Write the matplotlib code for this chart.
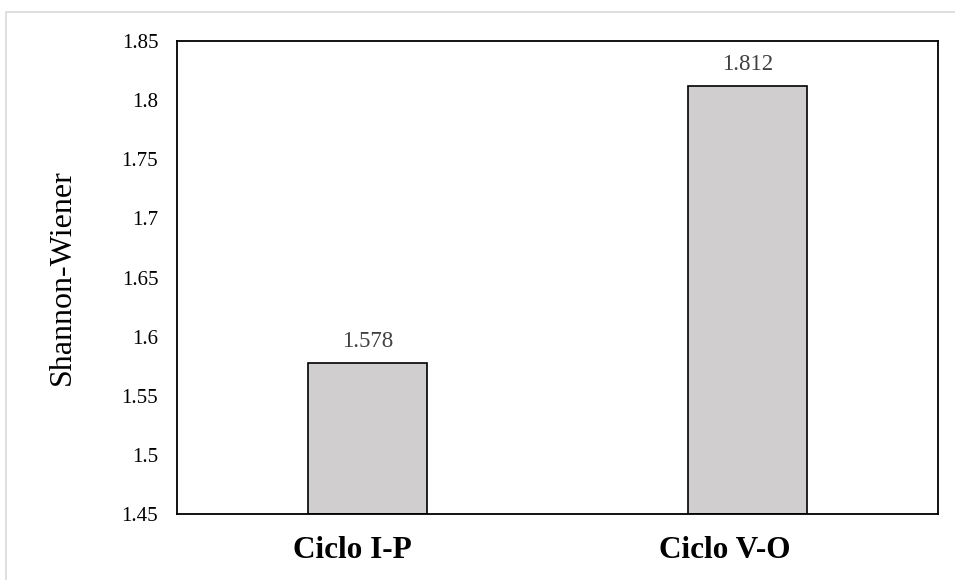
import numpy as np
import matplotlib.pyplot as plt
from matplotlib.patches import Rectangle
from matplotlib.transforms import ScaledTranslation

# Datos #
ciclos = ['Ciclo I-P', 'Ciclo V-O']
shannon = [1.578, 1.812]
yticks = [1.45, 1.5, 1.55, 1.6, 1.65, 1.7, 1.75, 1.8, 1.85]
ytick_labels = ['1.45', '1.5', '1.55', '1.6', '1.65', '1.7', '1.75', '1.8', '1.85']

plt.rcParams['font.family'] = ['Liberation Serif', 'DejaVu Serif']

fig = plt.figure(figsize=(9.55, 5.8), dpi=100)
ax = fig.add_axes([177 / 955, 1 - 514 / 580, 761 / 955, 473 / 580])

# Marco exterior gris claro #
fig.patches.append(Rectangle((6 / 955, -0.1), 1.2, 1 - 12 / 580 + 0.1,
                             transform=fig.transFigure, fill=False,
                             edgecolor='#d9d9d9', lw=1.2))

x = np.arange(len(ciclos))
bars = ax.bar(x, np.array(shannon) - 1.45, bottom=1.45, width=0.313,
              color='#d0cece', edgecolor='black', lw=1.2)

# Etiquetas de valor sobre cada barra #
for xi, v in zip(x, shannon):
    ax.annotate('%.3f' % v, (xi, v), xytext=(0, 11.5), textcoords='offset points',
                ha='center', va='baseline', fontsize=16.5, color='#404040')

ax.set_xlim(-0.5, 1.5)
ax.set_ylim(1.45, 1.85)
ax.set_yticks(yticks)
ax.set_yticklabels(ytick_labels, fontsize=15)
ax.set_xticks(x)
ax.set_xticklabels(ciclos, fontsize=22.5, fontweight='bold')
ax.tick_params(axis='both', length=0)
ax.tick_params(axis='y', pad=13.5)
ax.tick_params(axis='x', pad=16)
ax.set_ylabel('Shannon-Wiener', fontsize=23, labelpad=32)

# las etiquetas de categoria van algo corridas a la izquierda #
for lab, dx in zip(ax.get_xticklabels(), [-15, -23]):
    lab.set_transform(lab.get_transform() + ScaledTranslation(dx / 100, 0, fig.dpi_scale_trans))

for s in ax.spines.values():
    s.set_linewidth(1.3)

fig.savefig('out.png', dpi=100)
